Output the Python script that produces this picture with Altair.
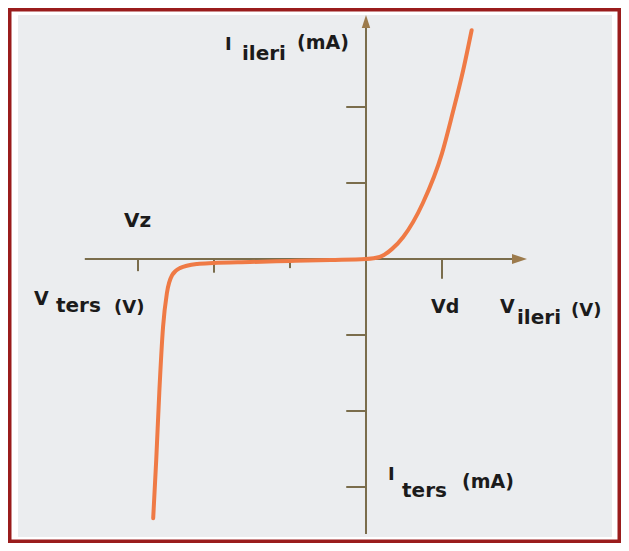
import altair as alt
import pandas as pd

# Diode I-V characteristic (axis units = tick spacing)
curve_v = [-2.80, -2.76, -2.72, -2.67, -2.62, -2.55, -2.45, -2.22, -2.01, -1.53, -1.0, -0.47,
           0.0, 0.18, 0.34, 0.49, 0.75, 1.0, 1.14, 1.28, 1.39]
curve_i = [-3.41, -2.64, -1.76, -0.89, -0.45, -0.21, -0.12, -0.066, -0.053, -0.04, -0.026, -0.013,
           0.0, 0.026, 0.13, 0.29, 0.74, 1.39, 1.92, 2.49, 3.01]

# ticks on the axes
xtick_pos = [-3, -2, -1, 1]
xtick_len = [0.16, 0.18, 0.12, 0.26]
ytick_pos = [2, 1, -1, -2, -3]

# label pieces
label_text = ["I", "ileri", "(mA)", "Vz", "V", "ters", "(V)", "Vd", "V", "ileri", "(V)", "I", "ters", "(mA)"]
label_x = [-1.855, -1.632, -0.908, -3.184, -4.368, -4.079, -3.316, 0.855, 1.763, 1.987, 2.697, 0.290, 0.474, 1.263]
label_y = [2.750, 2.618, 2.763, 0.421, -0.605, -0.697, -0.711, -0.711, -0.711, -0.855, -0.750, -2.908, -3.132, -3.013]
label_size = [18, 20, 19, 20, 19, 20, 18, 19, 19, 20, 18, 18, 20, 19]

XDOM = [-4.7105, 3.3553]
YDOM = [-3.7368, 3.3026]
xs = alt.Scale(domain=XDOM, nice=False, zero=False)
ys = alt.Scale(domain=YDOM, nice=False, zero=False)

AXC = "#7a6d4c"
ARC = "#9c7b4c"

curve_df = pd.DataFrame({"v": curve_v, "i": curve_i, "o": range(len(curve_v))})
xt_df = pd.DataFrame({"x": xtick_pos, "y0": [0] * 4, "y1": [-l for l in xtick_len]})
yt_df = pd.DataFrame({"y": ytick_pos, "x0": [-0.26] * 5, "x1": [0] * 5})
lab_df = pd.DataFrame({"t": label_text, "x": label_x, "y": label_y, "s": label_size})
haxis_df = pd.DataFrame({"x0": [-3.70], "x1": [1.97], "y": [0]})
vaxis_df = pd.DataFrame({"x": [0], "y0": [-3.62], "y1": [3.05]})
harrow_df = pd.DataFrame({"x": [2.02], "y": [0]})
varrow_df = pd.DataFrame({"x": [0], "y": [3.125]})

base_one = pd.DataFrame({"a": [0]})

border = alt.Chart(base_one).mark_rect(fill="white", stroke="#9a1c1c", strokeWidth=3.5).encode(
    x=alt.value(1.75), x2=alt.value(611.25), y=alt.value(1.75), y2=alt.value(533.25))
panel = alt.Chart(base_one).mark_rect(fill="#ebedef").encode(
    x=alt.value(10), x2=alt.value(604), y=alt.value(7), y2=alt.value(529))

haxis = alt.Chart(haxis_df).mark_rule(color=AXC, strokeWidth=2).encode(
    x=alt.X("x0:Q", scale=xs, axis=None), x2="x1:Q", y=alt.Y("y:Q", scale=ys, axis=None))
vaxis = alt.Chart(vaxis_df).mark_rule(color=AXC, strokeWidth=2).encode(
    x=alt.X("x:Q", scale=xs, axis=None), y=alt.Y("y0:Q", scale=ys, axis=None), y2="y1:Q")
xticks = alt.Chart(xt_df).mark_rule(color=AXC, strokeWidth=2).encode(
    x=alt.X("x:Q", scale=xs, axis=None), y=alt.Y("y0:Q", scale=ys, axis=None), y2="y1:Q")
yticks = alt.Chart(yt_df).mark_rule(color=AXC, strokeWidth=2).encode(
    x=alt.X("x0:Q", scale=xs, axis=None), x2="x1:Q", y=alt.Y("y:Q", scale=ys, axis=None))
harrow = alt.Chart(harrow_df).mark_point(
    shape="M-1,-0.67L1,0L-1,0.67Z", filled=True, color=ARC, opacity=1, size=225).encode(
    x=alt.X("x:Q", scale=xs, axis=None), y=alt.Y("y:Q", scale=ys, axis=None))
varrow = alt.Chart(varrow_df).mark_point(
    shape="M0,-1L0.65,1L-0.65,1Z", filled=True, color=ARC, opacity=1, size=169).encode(
    x=alt.X("x:Q", scale=xs, axis=None), y=alt.Y("y:Q", scale=ys, axis=None))

curve = alt.Chart(curve_df).mark_line(
    color="#ef7a45", strokeWidth=4, interpolate="monotone", strokeCap="round").encode(
    x=alt.X("v:Q", scale=xs, axis=None), y=alt.Y("i:Q", scale=ys, axis=None), order="o:Q")

labels = alt.Chart(lab_df).mark_text(
    align="left", baseline="alphabetic", font="DejaVu Sans", fontWeight="bold", color="#1b1b1b").encode(
    x=alt.X("x:Q", scale=xs, axis=None), y=alt.Y("y:Q", scale=ys, axis=None),
    text="t:N", size=alt.Size("s:Q", scale=None, legend=None))

chart = alt.layer(border, panel, haxis, vaxis, xticks, yticks, harrow, varrow, curve, labels).properties(
    width=613, height=535, autosize=alt.AutoSizeParams(type="none"), padding=0,
    background="white").configure_view(stroke=None)

chart.save("out.html", embed_options={"renderer": "svg", "actions": False})
